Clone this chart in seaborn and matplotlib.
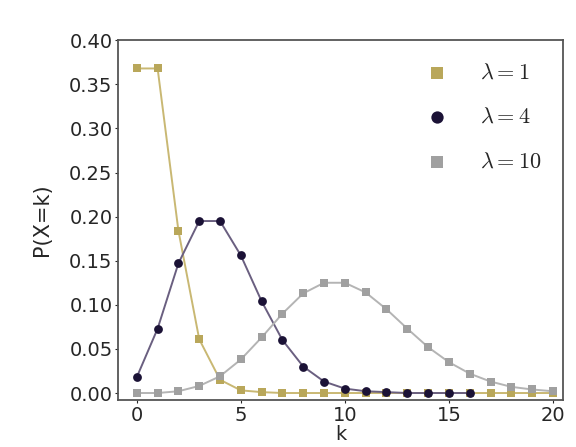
import matplotlib
matplotlib.use("Agg")
import matplotlib.pyplot as plt
import numpy as np
import pandas as pd
import seaborn as sns

# Poisson probabilities
k_lam1 = list(range(21))
p_lam1 = [0.368, 0.368, 0.184, 0.061, 0.015, 0.003, 0.001, 0.000, 0.000, 0.000,
          0.000, 0.000, 0.000, 0.000, 0.000, 0.000, 0.000, 0.000, 0.000, 0.000, 0.000]
k_lam4 = list(range(17))
p_lam4 = [0.018, 0.073, 0.147, 0.195, 0.195, 0.156, 0.104, 0.060, 0.030, 0.013,
          0.005, 0.002, 0.001, 0.000, 0.000, 0.000, 0.000]
k_lam10 = list(range(21))
p_lam10 = [0.000, 0.000, 0.002, 0.008, 0.019, 0.038, 0.063, 0.090, 0.113, 0.125,
           0.125, 0.114, 0.095, 0.073, 0.052, 0.035, 0.022, 0.013, 0.007, 0.004, 0.002]
labels = [r"$\lambda = 1$", r"$\lambda = 4$", r"$\lambda = 10$"]
colors = ["#b9a75a", "#1b1236", "#a0a0a0"]
line_colors = ["#c9b873", "#6a5f80", "#b4b4b4"]
markers = ["s", "o", "s"]

sns.set_style("ticks")
plt.rcParams["mathtext.fontset"] = "cm"

df = pd.DataFrame({
    "k": k_lam1 + k_lam4 + k_lam10,
    "p": p_lam1 + p_lam4 + p_lam10,
    "lam": [labels[0]] * len(k_lam1) + [labels[1]] * len(k_lam4) + [labels[2]] * len(k_lam10),
})

fig, ax = plt.subplots(figsize=(5.76, 4.47), dpi=100)
for lab, col, lcol, mk in zip(labels, colors, line_colors, markers):
    sub = df[df["lam"] == lab]
    sns.lineplot(data=sub, x="k", y="p", ax=ax, color=lcol, linewidth=1.4)
    sns.scatterplot(data=sub, x="k", y="p", ax=ax, color=col, marker=mk,
                    s=40, linewidth=0, label=lab, zorder=3)

ax.set_xlim(-0.9, 20.5)
ax.set_ylim(-0.008, 0.40)
ax.set_xticks([0, 5, 10, 15, 20])
ax.set_yticks(np.arange(0, 0.41, 0.05))
ax.set_xlabel("k", fontsize=14, labelpad=0)
ax.set_ylabel("P(X=k)", fontsize=15, labelpad=12)
ax.tick_params(labelsize=14, length=2, pad=2)
for sp in ax.spines.values():
    sp.set_linewidth(1.3)
    sp.set_color("#555555")

leg = ax.legend(loc="upper right", frameon=False, fontsize=16,
                handletextpad=0.9, labelspacing=1.1, borderaxespad=0.6,
                markerscale=1.4)

fig.subplots_adjust(left=0.205, right=0.978, top=0.91, bottom=0.105)
fig.savefig("out.png", dpi=100)
